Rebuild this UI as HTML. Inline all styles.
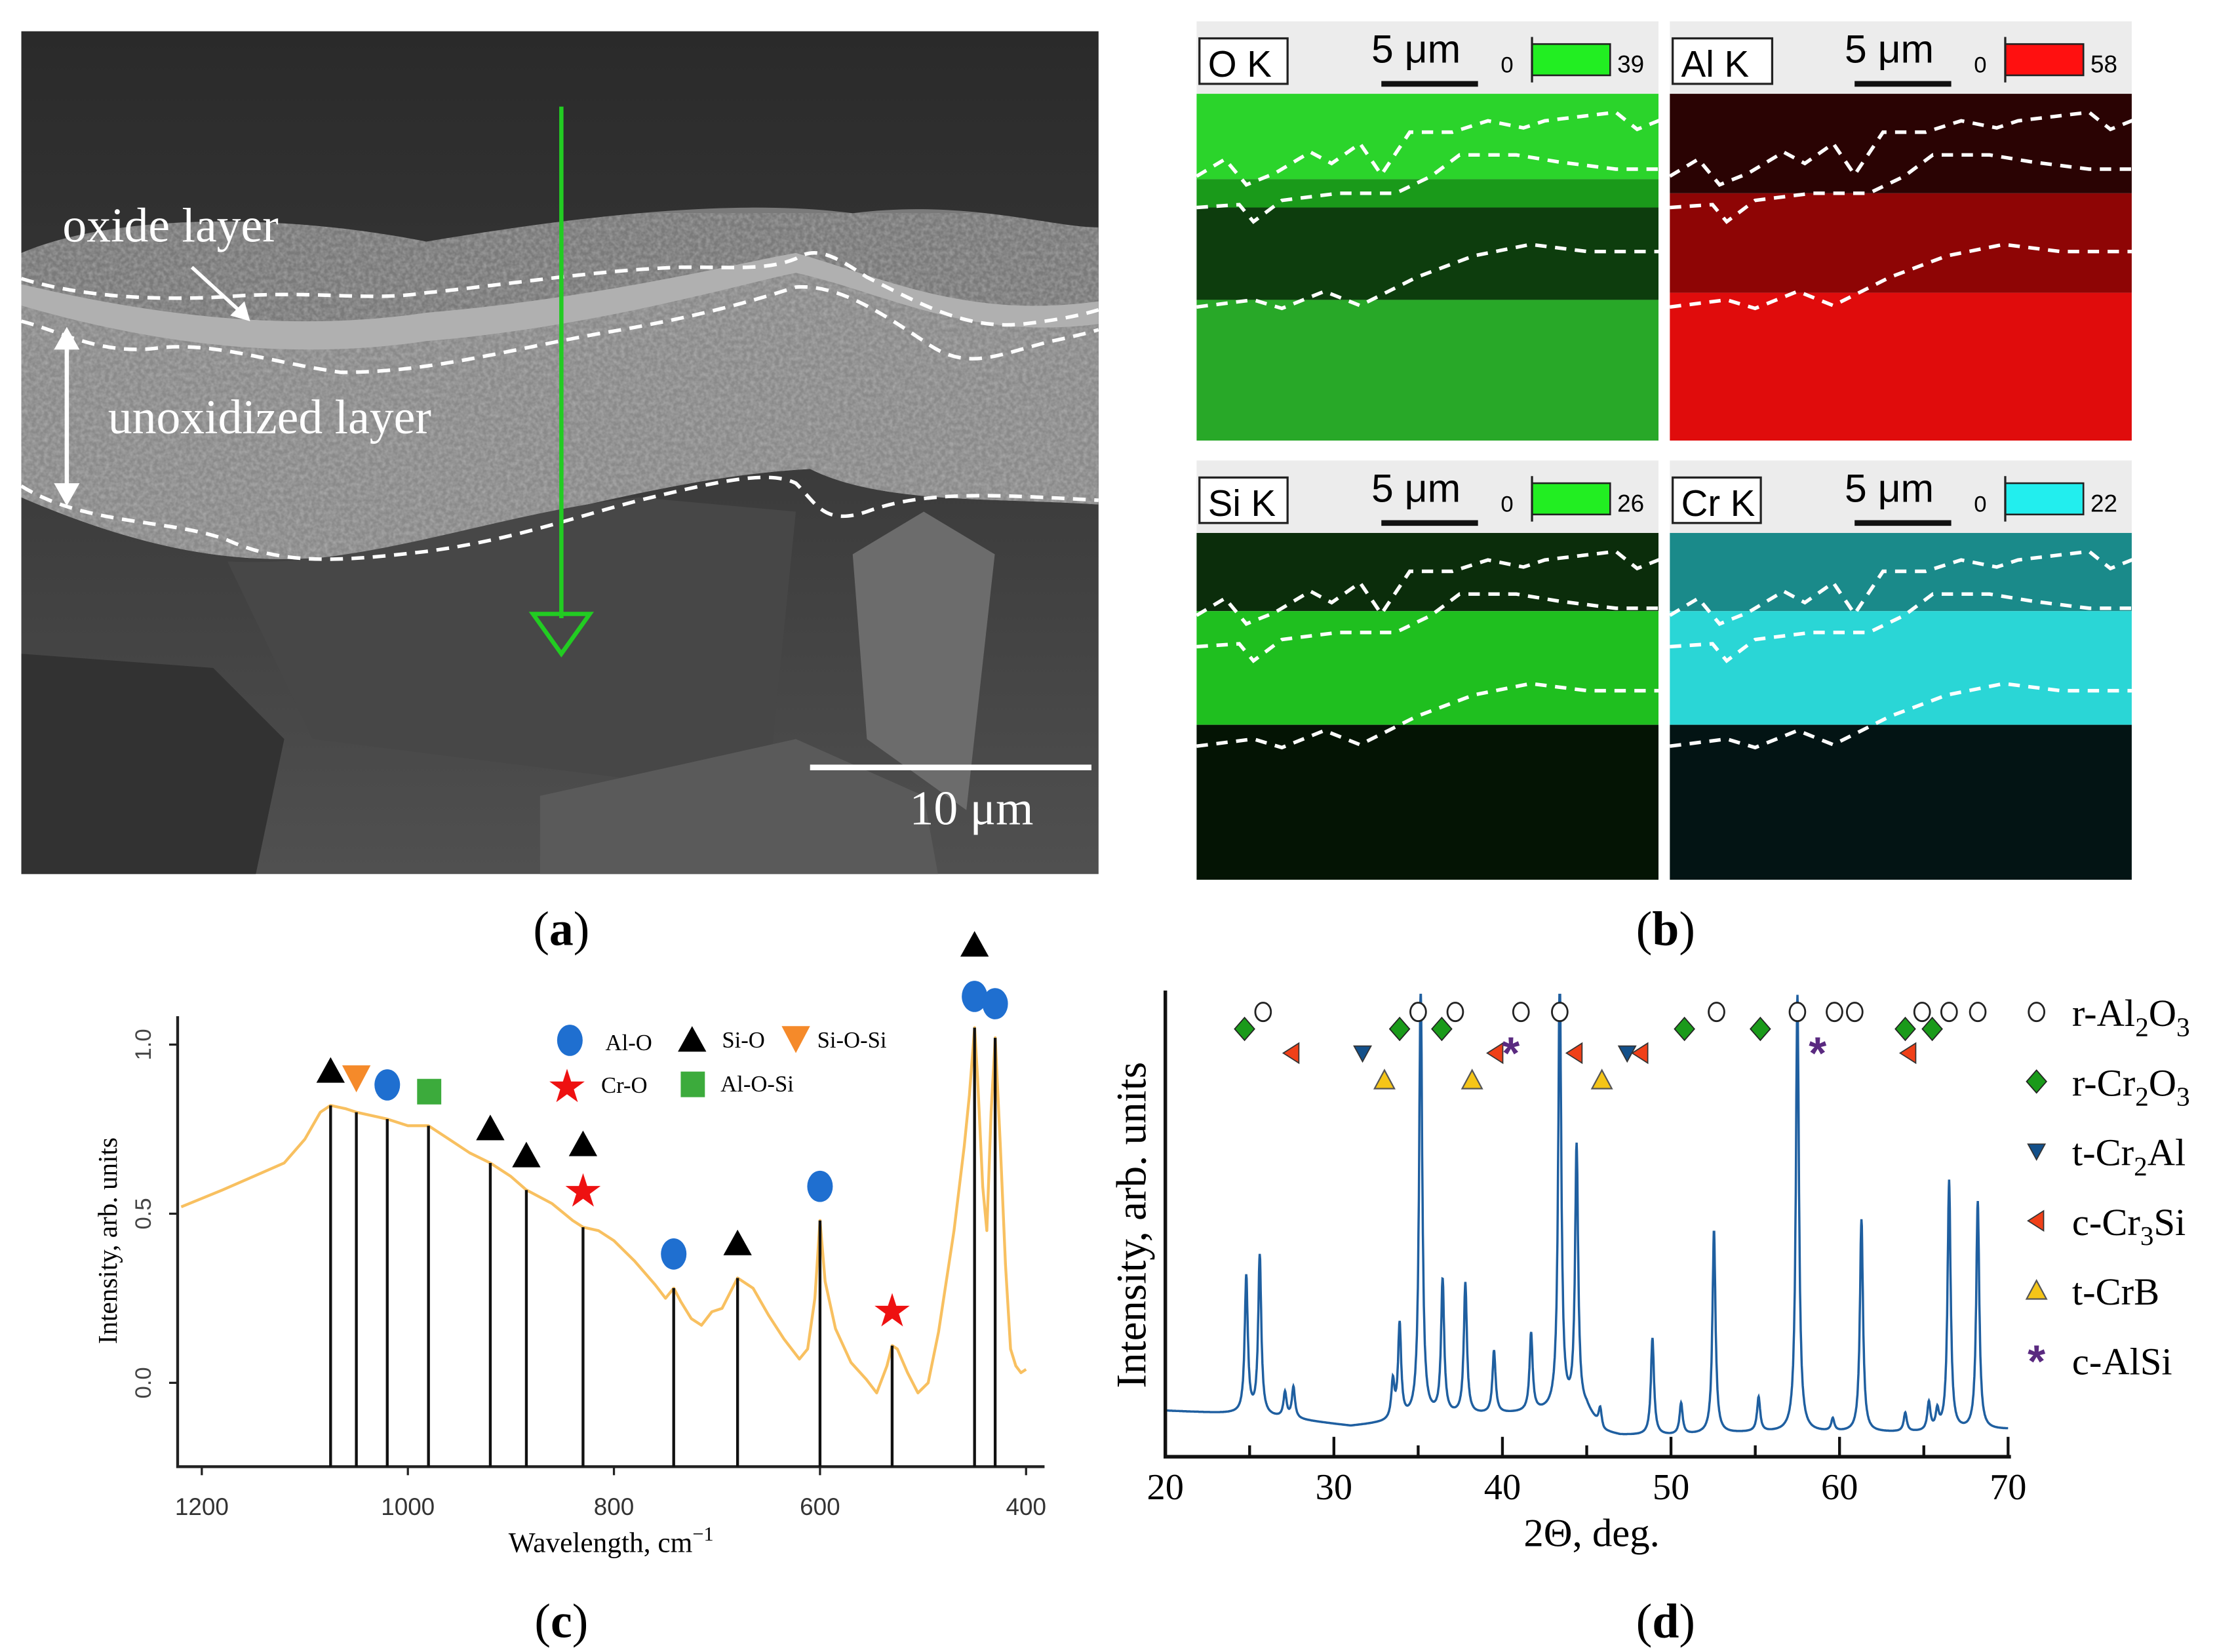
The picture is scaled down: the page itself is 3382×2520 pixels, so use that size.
<!DOCTYPE html>
<html><head><meta charset="utf-8">
<style>
html,body{margin:0;padding:0;background:#fff;}
svg{display:block;}
text{font-family:"Liberation Serif",serif;}
.sans{font-family:"Liberation Sans",sans-serif;}
</style></head>
<body>
<svg id="fig" width="3382" height="2520" viewBox="0 0 1560 1162.4" preserveAspectRatio="none" xmlns="http://www.w3.org/2000/svg">
<defs>
<linearGradient id="semBg" x1="0" y1="0" x2="0" y2="1">
<stop offset="0" stop-color="#2a2a2a"/><stop offset="0.5" stop-color="#3a3a3a"/><stop offset="1" stop-color="#505050"/>
</linearGradient>
<filter id="noise" x="0" y="0" width="100%" height="100%">
<feTurbulence type="fractalNoise" baseFrequency="0.35" numOctaves="2" seed="3"/>
<feColorMatrix type="matrix" values="0 0 0 0 1  0 0 0 0 1  0 0 0 0 1  0 0 0 1.2 -0.35"/>
</filter>
</defs>

<g>
<rect x="15" y="22" width="758" height="593" fill="url(#semBg)"/>
<path d="M15,178 C80,150 200,150 300,170 C420,150 520,140 600,150 C680,140 740,160 773,160 L773,355 C700,350 620,355 570,330 C480,335 400,360 300,380 C200,405 120,395 15,350 Z" fill="#7a7a7a"/>
<path d="M15,215 C100,240 200,255 300,240 C420,230 520,200 560,192 C620,205 680,240 773,228 L773,355 C700,350 620,355 570,330 C480,335 400,360 300,380 C200,405 120,395 15,350 Z" fill="#8a8a8a"/>
<clipPath id="layerClip"><path d="M15,178 C80,150 200,150 300,170 C420,150 520,140 600,150 C680,140 740,160 773,160 L773,355 C700,350 620,355 570,330 C480,335 400,360 300,380 C200,405 120,395 15,350 Z"/></clipPath>
<rect x="15" y="150" width="758" height="250" fill="#fff" filter="url(#noise)" opacity="0.35" clip-path="url(#layerClip)"/>
<path d="M15,200 C100,220 200,235 300,220 C420,210 520,185 560,178 C620,195 680,225 773,212 L773,228 C680,240 620,205 560,192 C520,200 420,230 300,240 C200,255 100,240 15,215 Z" fill="#b0b0b0"/>
<path d="M160,395 C260,400 350,360 450,350 L560,360 L540,560 L220,520 Z" fill="#474747"/>
<path d="M600,390 L650,360 L700,390 L680,570 L610,520 Z" fill="#6c6c6c"/>
<path d="M380,560 L560,520 L650,560 L660,615 L380,615 Z" fill="#5a5a5a"/>
<path d="M15,460 L150,470 L200,520 L180,615 L15,615 Z" fill="#323232"/>
<g fill="none" stroke="#fff" stroke-width="2.5" stroke-dasharray="9,6">
<path d="M15,196 C60,210 120,212 170,208 C230,205 260,212 300,206 C360,200 420,190 480,188 C520,188 540,190 560,182 C575,172 590,182 610,195 C650,215 680,232 720,228 C745,225 760,222 773,218"/>
<path d="M15,226 C40,232 70,250 110,245 C150,240 190,255 240,262 C300,262 350,248 420,235 C480,225 520,215 560,202 C590,200 620,220 650,240 C680,262 700,250 740,240 C760,236 773,232 773,232"/>
<path d="M15,342 C60,370 120,365 160,380 C200,398 240,395 300,388 C360,380 400,365 450,352 C500,340 540,330 560,340 C575,355 580,370 610,360 C650,345 700,348 773,352"/>
</g>
<line x1="395" y1="75" x2="395" y2="435" stroke="#22cc22" stroke-width="3"/>
<path d="M375,432 L415,432 L395,460 Z" fill="none" stroke="#22cc22" stroke-width="3"/>
<line x1="47" y1="234" x2="47" y2="352" stroke="#fff" stroke-width="3"/>
<path d="M38,246 L47,230 L56,246 Z M38,340 L47,356 L56,340 Z" fill="#fff"/>
<line x1="135" y1="188" x2="170" y2="220" stroke="#fff" stroke-width="2.5"/>
<path d="M162,222 L176,226 L172,212 Z" fill="#fff"/>
<text x="44" y="170" font-size="34" fill="#fff">oxide layer</text>
<text x="76" y="305" font-size="34" fill="#fff">unoxidized layer</text>
<line x1="570" y1="540" x2="768" y2="540" stroke="#fff" stroke-width="4"/>
<text x="640" y="580" font-size="34" fill="#fff">10 μm</text>
</g>
<text x="395" y="665" text-anchor="middle" font-size="34">(<tspan font-weight="bold">a</tspan>)</text>

<g id="maps"></g>
<text x="1172" y="665" text-anchor="middle" font-size="34">(<tspan font-weight="bold">b</tspan>)</text>

<g id="ftir"></g>
<text x="395" y="1152" text-anchor="middle" font-size="34">(<tspan font-weight="bold">c</tspan>)</text>

<g id="xrd"></g>
<text x="1172" y="1152" text-anchor="middle" font-size="34">(<tspan font-weight="bold">d</tspan>)</text>
</svg>

<script>
const NS="http://www.w3.org/2000/svg";
function mk(parent,tag,attrs,txt){const e=document.createElementNS(NS,tag);for(const k in attrs)e.setAttribute(k,attrs[k]);if(txt!==undefined)e.textContent=txt;parent.appendChild(e);return e;}

const mapLabels=["O K","Al K","Si K","Cr K"];
const mapMax=[39,58,26,22];
const mapColors=["#22ee22","#ff1010","#22ee22","#22eeee"];
(function(){
const g=document.getElementById('maps');
const pos=[[842,66],[1175,66],[842,375],[1175,375]];
const bands=[
 [["#2bd42b",0,60],["#1a9a1a",60,80],["#0d3d0d",80,145],["#28a828",145,244]],
 [["#2a0303",0,70],["#8e0505",70,140],["#e00c0c",140,244]],
 [["#0b2d0b",0,55],["#1fbf1f",55,135],["#041404",135,244]],
 [["#1a8a8a",0,55],["#2ad6d6",55,135],["#031414",135,244]]
];
for(let i=0;i<4;i++){
 const [x,y]=pos[i];
 const hdr=mk(g,'rect',{x:x,y:y-51,width:325,height:51,fill:'#ececec'});
 
 
 mk(g,'rect',{x:x+2,y:y-39,width:i==1?70:62,height:32,fill:'#fff',stroke:'#222','stroke-width':1.5});
 const t=mk(g,'text',{x:x+8,y:y-12,'font-size':26,class:'sans'},mapLabels[i]);
 
 
 mk(g,'text',{x:x+123,y:y-22,'font-size':28,class:'sans'},'5 μm');
 mk(g,'line',{x1:x+130,y1:y-7,x2:x+198,y2:y-7,stroke:'#111','stroke-width':4});
 mk(g,'text',{x:x+214,y:y-15,'font-size':16,class:'sans'},'0');
 mk(g,'rect',{x:x+236,y:y-35,width:55,height:22,fill:mapColors[i],stroke:'#222','stroke-width':1.2});
 mk(g,'line',{x1:x+236,y1:y-40,x2:x+236,y2:y-8,stroke:'#222','stroke-width':1.5});
 mk(g,'text',{x:x+296,y:y-15,'font-size':17,class:'sans'},String(mapMax[i]));
 bands[i].forEach(b=>mk(g,'rect',{x:x,y:y+b[1],width:325,height:b[2]-b[1],fill:b[0]}));
 const d=mk(g,'g',{fill:'none',stroke:'#fff','stroke-width':2.5,'stroke-dasharray':'8,6'});
 mk(d,'path',{d:`M${x},${y+58} l20,-12 l15,18 l20,-8 l25,-15 l15,8 l20,-14 l15,22 l20,-30 l30,0 l25,-8 l25,5 l15,-5 l25,-3 l25,-3 l15,12 l20,-8 l15,-3`});
 mk(d,'path',{d:`M${x},${y+80} l30,-2 l10,12 l20,-15 l40,-5 l40,0 l25,-12 l20,-15 l40,0 l30,5 l40,5 l30,0`});
 mk(d,'path',{d:`M${x},${y+150} l40,-5 l20,6 l30,-12 l25,10 l40,-20 l40,-15 l40,-8 l40,5 l50,0`});
}
})();

const ftirWave=[1220,1180,1150,1120,1100,1085,1075,1060,1050,1020,1000,980,960,940,920,900,885,860,840,830,815,800,780,760,750,742,735,725,715,705,695,680,665,650,635,620,612,605,600,595,585,570,555,545,535,530,525,515,505,495,485,470,460,455,450,447,442,438,434,430,425,420,415,410,405,400];
const ftirInt=[0.52,0.57,0.61,0.65,0.72,0.80,0.82,0.81,0.80,0.78,0.76,0.76,0.72,0.68,0.65,0.61,0.57,0.53,0.48,0.46,0.45,0.42,0.36,0.29,0.25,0.28,0.24,0.19,0.17,0.21,0.22,0.31,0.28,0.20,0.13,0.07,0.10,0.25,0.48,0.30,0.16,0.06,0.01,-0.03,0.05,0.11,0.10,0.03,-0.03,0.00,0.15,0.45,0.70,0.85,1.05,0.90,0.58,0.45,0.80,1.02,0.70,0.35,0.10,0.05,0.03,0.04];
const ftirPeaks=[1075,1050,1020,980,920,885,830,742,680,600,530,450,430];
const ftirPeakVal=[0.82,0.80,0.78,0.76,0.65,0.57,0.46,0.28,0.31,0.48,0.11,1.05,1.02];
const ftirMarkers=["tri","tri-down","circ","sq","tri","tri","tri+star","circ","tri","circ","star","tri+circ","circ"];
const ftirXTicks=[1200,1000,800,600,400];
const ftirYTicks=[0.0,0.5,1.0];
(function(){
const g=document.getElementById('ftir');
const X=w=>142+(1200-w)*0.725, Y=v=>973-v*238;
const ax=mk(g,'path',{d:'M125,715 L125,1032 L735,1032',fill:'none',stroke:'#222','stroke-width':2});


ftirXTicks.forEach(t=>{mk(g,'line',{x1:X(t),y1:1032,x2:X(t),y2:1038,stroke:'#222','stroke-width':1.5});
 const tl=mk(g,'text',{x:X(t),y:1066,'font-size':17,'text-anchor':'middle',class:'sans',fill:'#333'},String(t));
 
 });
ftirYTicks.forEach(t=>{mk(g,'line',{x1:119,y1:Y(t),x2:125,y2:Y(t),stroke:'#222','stroke-width':1.5});
 const tl=mk(g,'text',{x:106,y:Y(t),'font-size':16,'text-anchor':'middle',class:'sans',fill:'#444',transform:`rotate(-90 106 ${Y(t)})`},t.toFixed(1));
 
 });
const xt=mk(g,'text',{x:430,y:1092,'font-size':20,'text-anchor':'middle'},'Wavelength, cm');
mk(xt,'tspan',{dy:-8,'font-size':14},'−1');


const yt=mk(g,'text',{x:82,y:873,'font-size':19,'text-anchor':'middle',transform:'rotate(-90 82 873)'},'Intensity, arb. units');


let d='';ftirWave.forEach((w,i)=>{d+=(i?'L':'M')+X(w).toFixed(1)+','+Y(ftirInt[i]).toFixed(1);});
const ln=mk(g,'path',{d:d,fill:'none',stroke:'#f8c060','stroke-width':2,'stroke-linejoin':'round'});


function marker(type,x,y){
 let e;
 if(type=='tri')e=mk(g,'path',{d:`M${x-10},${y+8} L${x+10},${y+8} L${x},${y-10} Z`,fill:'#000'});
 else if(type=='tri-down')e=mk(g,'path',{d:`M${x-10},${y-9} L${x+10},${y-9} L${x},${y+10} Z`,fill:'#f58a2a'});
 else if(type=='circ')e=mk(g,'ellipse',{cx:x,cy:y,rx:9,ry:11,fill:'#1f6fd0'});
 else if(type=='sq')e=mk(g,'rect',{x:x-8,y:y-9,width:17,height:18,fill:'#3cab3c'});
 else if(type=='star'){let p='';for(let k=0;k<10;k++){const r=k%2?5:13,a=-Math.PI/2+k*Math.PI/5;p+=(k?'L':'M')+(x+r*Math.cos(a)).toFixed(1)+','+(y+r*Math.sin(a)).toFixed(1);}e=mk(g,'path',{d:p+'Z',fill:'#ee1111'});}
 
 
}
ftirPeaks.forEach((w,i)=>{
 const x=X(w),y=Y(ftirPeakVal[i]);
 const s=mk(g,'line',{x1:x,y1:y,x2:x,y2:1032,stroke:'#111','stroke-width':2});
 
 
 const m=ftirMarkers[i];
 if(m=='tri+star'){marker('star',x,y-25);marker('tri',x,y-58);}
 else if(m=='tri+circ'){marker('circ',x,y-22);marker('tri',x,y-58);}
 else marker(m,x,y-24);
});
const lg=mk(g,'g',{});


marker('circ',401,732);mk(lg,'text',{x:426,y:739,'font-size':16},'Al-O');
marker('tri',487,732);mk(lg,'text',{x:508,y:737,'font-size':16},'Si-O');
marker('tri-down',560,731);mk(lg,'text',{x:575,y:737,'font-size':16},'Si-O-Si');
marker('star',399,765);mk(lg,'text',{x:423,y:769,'font-size':16},'Cr-O');
marker('sq',487,763);mk(lg,'text',{x:507,y:768,'font-size':16},'Al-O-Si');
})();

const xrdPeakPos=[24.8,25.6,27.1,27.6,33.5,33.9,35.15,36.45,37.8,39.5,41.7,43.4,44.4,45.8,48.9,50.6,52.55,55.2,57.5,59.6,61.3,63.9,65.3,65.8,66.5,68.2];
const xrdPeakHt=[44,51,8,10,12,30,140,43,42,20,25,140,84,6,31,10,65,11,140,4,68,6,9,6,80,73];
const xrdBasePos=[20,24,28,31,33,36,45,46,47,50,55,60,65,70];
const xrdBaseVal=[2,1,-1,-3,-2,0,2,-5,-6,-6,-5,-5,-5,-4];
const xrdXTicks=[20,30,40,50,60,70];
const xrdLegend=["r-Al","r-Cr","t-Cr","c-Cr","t-CrB","c-AlSi"];
const xrdCircles=[25.8,35.0,37.2,41.1,43.4,52.7,57.5,59.7,60.9,64.9,66.5,68.2];
const xrdDiamonds=[24.7,33.9,36.4,50.8,55.3,63.9,65.5];
const xrdCr3Si=[27.5,39.6,44.3,48.2,64.1];
const xrdCr2Al=[31.7,47.4];
const xrdCrB=[33.0,38.2,45.9];
const xrdAlSi=[40.5,58.7];
(function(){
const g=document.getElementById('xrd');
const X=d=>820+(d-20)*11.86, Y=v=>997-v*2.2;
function base(d){for(let i=0;i<xrdBasePos.length-1;i++){if(d<=xrdBasePos[i+1]){const t=(d-xrdBasePos[i])/(xrdBasePos[i+1]-xrdBasePos[i]);return xrdBaseVal[i]+t*(xrdBaseVal[i+1]-xrdBaseVal[i]);}}return xrdBaseVal[xrdBaseVal.length-1];}
let d='';
for(let k=0;k<=2500;k++){const t=20+k*0.02;let v=base(t);
 xrdPeakPos.forEach((p,i)=>{const w=0.11;v+=xrdPeakHt[i]/(1+((t-p)/w)**2);});
 v=Math.min(v,135);
 d+=(k?'L':'M')+X(t).toFixed(1)+','+Y(v).toFixed(1);}
const cl=mk(g,'clipPath',{id:'xrdClip'});mk(cl,'rect',{x:820,y:697,width:600,height:330});
const ln=mk(g,'path',{d:d,fill:'none',stroke:'#1f5fa0','stroke-width':1.6,'clip-path':'url(#xrdClip)'});


const ax=mk(g,'path',{d:'M820,697 L820,1025 L1415,1025',fill:'none',stroke:'#111','stroke-width':2.5});


for(let t=20;t<=70;t+=5){mk(g,'line',{x1:X(t),y1:1025,x2:X(t),y2:t%10?1017:1011,stroke:'#111','stroke-width':2});}
xrdXTicks.forEach(t=>{const e=mk(g,'text',{x:X(t),y:1055,'font-size':26,'text-anchor':'middle'},String(t));
 
 });
const xt=mk(g,'text',{x:1120,y:1088,'font-size':28,'text-anchor':'middle'},'2Θ, deg.');


const yt=mk(g,'text',{x:806,y:862,'font-size':30,'text-anchor':'middle',transform:'rotate(-90 806 862)'},'Intensity, arb. units');


function sym(type,x,y){let e;
 if(type==0)e=mk(g,'ellipse',{cx:x,cy:y,rx:5.5,ry:6.5,fill:'#fff',stroke:'#222','stroke-width':1.3});
 else if(type==1)e=mk(g,'path',{d:`M${x},${y-8} L${x+7},${y} L${x},${y+8} L${x-7},${y} Z`,fill:'#1a9a1a',stroke:'#222','stroke-width':0.8});
 else if(type==2)e=mk(g,'path',{d:`M${x-6},${y-5} L${x+6},${y-5} L${x},${y+6} Z`,fill:'#13508a',stroke:'#333','stroke-width':0.8});
 else if(type==3)e=mk(g,'path',{d:`M${x+5},${y-7} L${x+5},${y+7} L${x-6},${y} Z`,fill:'#f04018',stroke:'#333','stroke-width':0.8});
 else if(type==4)e=mk(g,'path',{d:`M${x-7},${y+6} L${x+7},${y+6} L${x},${y-7} Z`,fill:'#f5c518',stroke:'#555','stroke-width':1});
 else {e=mk(g,'text',{x:x,y:y+12,'font-size':32,'text-anchor':'middle',fill:'#5a2a80','font-weight':'bold',class:'sans'},'*');}
 
 }
xrdCircles.forEach(p=>sym(0,X(p),712));
xrdDiamonds.forEach(p=>sym(1,X(p),724));
xrdCr3Si.forEach(p=>sym(3,X(p),741));
xrdCr2Al.forEach(p=>sym(2,X(p),741));
xrdCrB.forEach(p=>sym(4,X(p),760));
xrdAlSi.forEach(p=>sym(5,X(p),740));
const subs=["2","2","2","3","",""],tails=["O","O","Al","Si","",""],sups=["3","3","","","",""];
xrdLegend.forEach((l,i)=>{const y=712+i*49;sym(i,1433,y);
 const t=mk(g,'text',{x:1458,y:y+10,'font-size':27},l);
 if(subs[i]){mk(t,'tspan',{dy:7,'font-size':19},subs[i]);mk(t,'tspan',{dy:-7},tails[i]);if(sups[i])mk(t,'tspan',{dy:7,'font-size':19},sups[i]);}
 
 });
})();
</script>
</body></html>
